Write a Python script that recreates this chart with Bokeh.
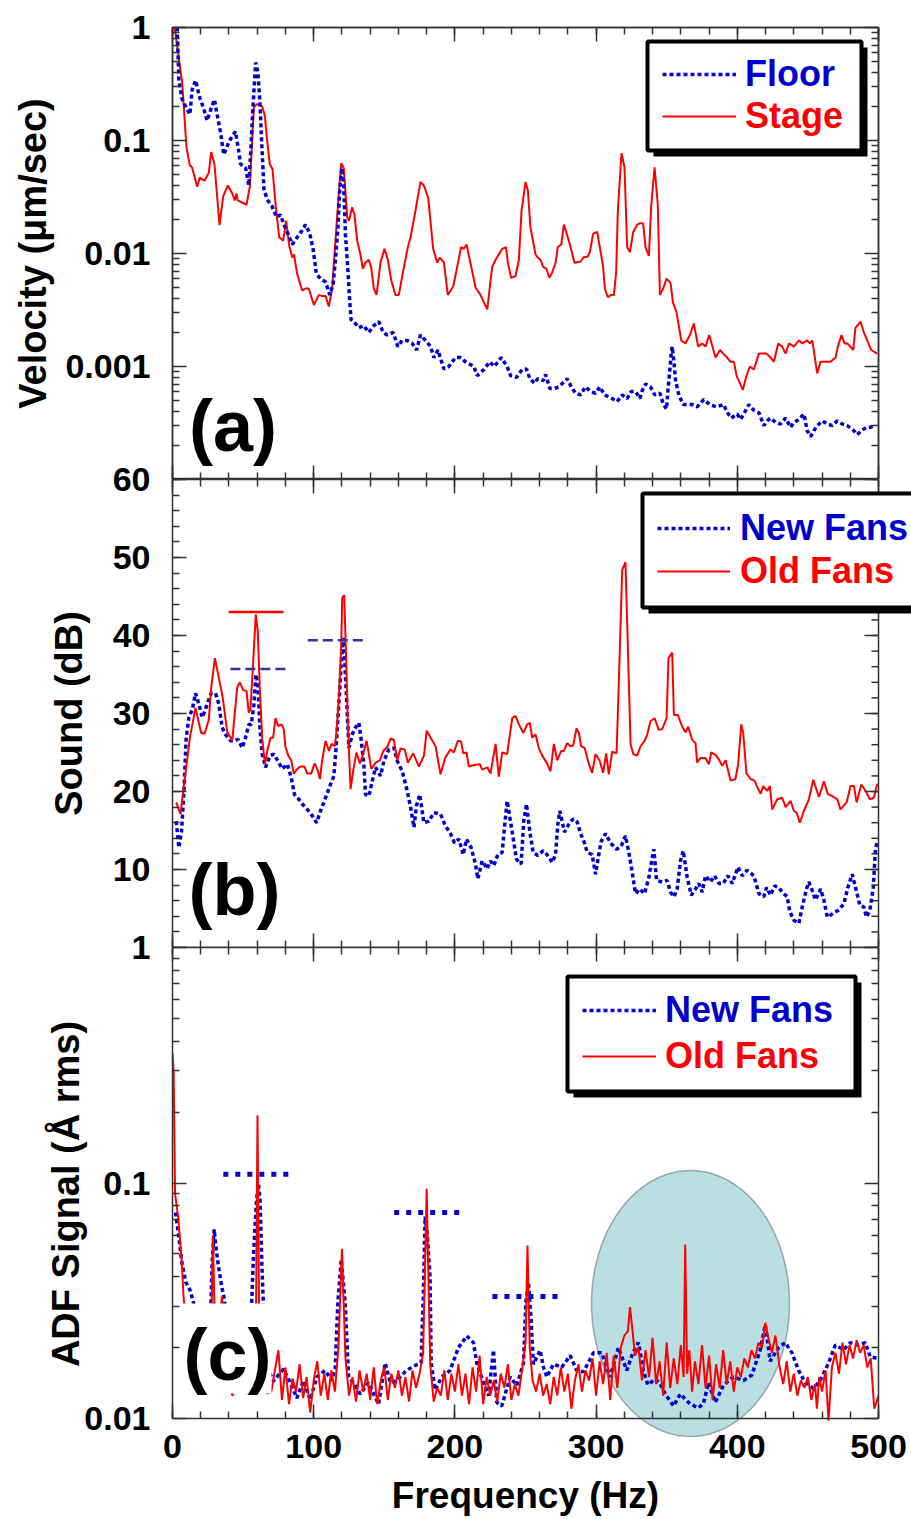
import numpy as np
from bokeh.plotting import figure
from bokeh.layouts import column
from bokeh.models import (Range1d, LinearAxis, LogAxis, FixedTicker, Legend, LegendItem,
                          BoxAnnotation, Label, PolyAnnotation)
from bokeh.embed import file_html
from bokeh.resources import INLINE

FONT = "Liberation Sans"
BLUE = "#0000cc"
RED = "#ff0000"
AXC = "#333333"

# ---------------- (a) Velocity ----------------
floor_f = [3.3, 4.5, 6.9, 9.3, 12.3, 13.9, 16.3, 19.3, 22.2, 24.5, 26.9, 29.7, 31.6, 34.0, 36.3, 39.2,
           42.3, 44.6, 46.3, 48.2, 51.8, 54.1, 55.8, 57.0, 58.9, 60.5, 61.9, 63.1, 64.8, 67.1, 70.6,
           73.7, 76.5, 78.9, 81.7, 84.8, 88.3, 91.8, 94.2, 97.2, 99.6, 101.9, 104.8, 108.4, 111.4,
           113.8, 115.4, 117.1, 118.5, 119.9, 121.3, 122.5, 124.1, 125.5, 126.5, 129.5, 131.9, 135.5,
           139.0, 142.6, 146.1, 149.2, 152.0, 156.3, 159.6, 162.7, 166.2, 169.8, 172.9, 175.6, 179.2,
           182.8, 185.1, 188.0, 192.2, 195.7, 200.4, 204.0, 207.5, 213.4, 215.8, 220.5, 224.7, 228.0,
           232.8, 237.0, 239.4, 243.6, 247.6, 250.7, 253.1, 256.4, 258.7, 262.5, 264.2, 267.2, 270.5,
           273.6, 277.2, 279.5, 282.4, 285.4, 289.0, 292.5, 296.0, 299.6, 302.7, 306.0, 311.4, 314.9,
           318.5, 322.0, 324.8, 327.9, 331.0, 332.6, 335.0, 338.5, 341.6, 345.2, 347.5, 349.9, 350.8,
           352.0, 353.2, 353.9, 355.1, 356.3, 358.6, 361.7, 364.5, 368.1, 371.6, 376.3, 380.6, 385.3,
           390.5, 392.4, 395.7, 399.9, 402.3, 405.1, 408.2, 411.7, 415.3, 418.8, 421.2, 423.5, 427.1,
           430.6, 434.2, 437.7, 440.1, 443.6, 447.2, 449.5, 451.9, 454.2, 456.6, 460.1, 463.7, 467.2,
           470.8, 474.3, 477.8, 481.4, 484.9, 487.8, 491.5, 494.4, 496.7]
floor_v = [1.0, 0.34, 0.23, 0.20, 0.17, 0.28, 0.34, 0.24, 0.19, 0.15, 0.185, 0.23, 0.17, 0.118, 0.075,
           0.092, 0.11, 0.12, 0.09, 0.062, 0.057, 0.040, 0.10, 0.20, 0.49, 0.40, 0.22, 0.10, 0.037,
           0.030, 0.026, 0.021, 0.022, 0.018, 0.015, 0.012, 0.0139, 0.016, 0.018, 0.015, 0.0109,
           0.0066, 0.006, 0.0056, 0.0043, 0.0054, 0.0088, 0.0165, 0.038, 0.057, 0.038, 0.0146, 0.0075,
           0.0038, 0.0026, 0.0024, 0.0022, 0.0023, 0.0020, 0.0023, 0.0025, 0.0020, 0.0019, 0.0020,
           0.0015, 0.0017, 0.0017, 0.0016, 0.0014, 0.0019, 0.0017, 0.0015, 0.0012, 0.0014, 0.00095,
           0.0010, 0.0012, 0.0012, 0.0011, 0.0010, 0.00083, 0.00094, 0.0011, 0.0010, 0.0012, 0.0010,
           0.00083, 0.00080, 0.00094, 0.00095, 0.00078, 0.00071, 0.00078, 0.00075, 0.00085, 0.00064,
           0.00064, 0.00066, 0.00073, 0.00078, 0.00066, 0.00058, 0.00056, 0.00066, 0.00060, 0.00058,
           0.00066, 0.00056, 0.00052, 0.00049, 0.00056, 0.00052, 0.00060, 0.00060, 0.00052, 0.00061,
           0.00070, 0.00066, 0.00056, 0.00058, 0.00047, 0.00042, 0.00060, 0.00087, 0.0013, 0.0015,
           0.0011, 0.00075, 0.00056, 0.00046, 0.00046, 0.00046, 0.00044, 0.00051, 0.00046, 0.00044,
           0.00046, 0.00040, 0.00035, 0.00038, 0.00034, 0.00039, 0.00046, 0.00041, 0.00039, 0.00030,
           0.00033, 0.00035, 0.00032, 0.00031, 0.00035, 0.00029, 0.00032, 0.00034, 0.00038, 0.00027,
           0.00024, 0.00027, 0.00030, 0.00033, 0.00031, 0.00030, 0.00033, 0.00031, 0.00030, 0.00028,
           0.00025, 0.00027, 0.00029, 0.00029, 0.00030]

stage_f = [1.5, 6.9, 9.9, 12.3, 13.8, 17.5, 19.3, 22.7, 25.7, 27.4, 29.7, 33.3, 35.9, 39.2, 42.3, 44.1,
           45.3, 46.2, 52.4, 54.7, 57.6, 60.0, 63.5, 65.4, 67.0, 68.9, 70.8, 73.2, 75.6, 78.4, 80.5,
           82.6, 84.8, 86.0, 88.3, 91.8, 94.2, 96.5, 100.1, 103.6, 106.0, 108.4, 110.7, 113.1, 115.4,
           117.8, 119.5, 121.3, 123.7, 125.0, 127.2, 128.9, 130.8, 133.1, 134.8, 136.6, 139.0, 140.7,
           142.6, 144.5, 147.3, 150.1, 152.5, 154.9, 157.9, 160.3, 163.8, 166.7, 168.6, 172.1, 175.6,
           178.0, 181.1, 184.6, 187.5, 189.4, 192.2, 195.0, 198.8, 201.6, 204.4, 206.3, 208.2, 212.2,
           214.6, 218.1, 222.9, 226.4, 228.8, 233.5, 236.1, 237.5, 239.8, 242.9, 245.3, 247.2, 250.0,
           251.7, 253.5, 257.1, 258.7, 260.6, 262.5, 264.9, 266.8, 268.9, 271.3, 272.9, 275.3, 277.2,
           279.5, 281.9, 284.7, 289.0, 291.3, 293.7, 295.6, 297.9, 300.8, 303.1, 305.0, 306.2, 308.3,
           310.7, 312.6, 314.2, 315.4, 318.0, 320.1, 322.0, 323.9, 326.3, 329.1, 331.0, 333.3, 335.0,
           337.4, 339.0, 341.4, 343.7, 345.2, 347.5, 349.9, 352.7, 354.4, 357.0, 360.3, 363.3, 366.4,
           369.2, 372.3, 375.1, 377.5, 380.1, 384.6, 387.7, 390.0, 392.8, 395.2, 397.6, 399.5, 403.9,
           406.5, 408.9, 411.7, 415.3, 417.6, 420.7, 423.5, 425.9, 429.0, 431.8, 434.2, 436.5, 440.1,
           443.6, 446.0, 449.5, 451.4, 453.1, 456.6, 459.0, 461.3, 463.7, 466.0, 469.6, 471.2, 473.8,
           476.0, 477.9, 482.1, 483.7, 487.3, 489.6, 492.0, 494.8, 499.1]
stage_v = [1.0, 0.32, 0.087, 0.060, 0.058, 0.039, 0.047, 0.044, 0.052, 0.079, 0.062, 0.0178, 0.032,
           0.040, 0.034, 0.0295, 0.034, 0.0295, 0.027, 0.0386, 0.197, 0.21, 0.20, 0.166, 0.10, 0.062,
           0.056, 0.0257, 0.0139, 0.013, 0.0195, 0.0118, 0.0092, 0.0098, 0.0066, 0.0047, 0.0049,
           0.0049, 0.0035, 0.0043, 0.0042, 0.0042, 0.0034, 0.0049, 0.013, 0.034, 0.063, 0.057, 0.021,
           0.0195, 0.0257, 0.022, 0.013, 0.0098, 0.0073, 0.0083, 0.0088, 0.0075, 0.0049, 0.0043,
           0.0083, 0.011, 0.0088, 0.0058, 0.0043, 0.0043, 0.0075, 0.0114, 0.0139, 0.024, 0.043, 0.040,
           0.031, 0.011, 0.0083, 0.0092, 0.0083, 0.0043, 0.0051, 0.0076, 0.0114, 0.011, 0.012, 0.007,
           0.005, 0.0043, 0.0032, 0.0076, 0.0088, 0.011, 0.0114, 0.0083, 0.0061, 0.0063, 0.0088, 0.024,
           0.043, 0.036, 0.017, 0.0098, 0.0092, 0.0088, 0.0076, 0.0073, 0.0061, 0.0068, 0.0083, 0.0114,
           0.012, 0.018, 0.0146, 0.0114, 0.0083, 0.0085, 0.0093, 0.0093, 0.0103, 0.015, 0.0155, 0.0105,
           0.0076, 0.0049, 0.0041, 0.0043, 0.0043, 0.0068, 0.024, 0.077, 0.058, 0.0114, 0.0103, 0.0155,
           0.018, 0.0185, 0.0185, 0.0114, 0.0095, 0.026, 0.058, 0.027, 0.0043, 0.0049, 0.006, 0.0055,
           0.0037, 0.003, 0.0017, 0.0016, 0.0019, 0.0024, 0.0015, 0.0016, 0.0015, 0.0019, 0.0012,
           0.0014, 0.0013, 0.0012, 0.0011, 0.0011, 0.00083, 0.00062, 0.00083, 0.0010, 0.00094, 0.0013,
           0.0013, 0.0013, 0.0012, 0.0011, 0.0016, 0.0015, 0.0013, 0.0016, 0.0015, 0.0017, 0.0016,
           0.0017, 0.0016, 0.0017, 0.00087, 0.0011, 0.0011, 0.0011, 0.0011, 0.0012, 0.0015, 0.0019,
           0.0016, 0.0016, 0.0014, 0.0022, 0.0025, 0.0020, 0.0017, 0.0014, 0.0013]

# ---------------- (b) Sound ----------------
new_b_f = [2.6, 4.5, 6.4, 8.1, 9.7, 11.6, 14.0, 16.3, 18.7, 21.0, 22.9, 25.3, 27.4, 30.5, 32.8, 35.2,
           37.6, 41.1, 44.2, 46.3, 49.4, 51.7, 54.1, 55.8, 57.6, 59.1, 60.5, 61.9, 63.5, 65.9, 69.0,
           71.8, 75.3, 77.7, 81.3, 84.1, 86.4, 89.5, 91.9, 95.4, 98.9, 102.0, 104.8, 108.4, 111.9,
           114.3, 116.2, 117.8, 119.5, 120.9, 122.1, 123.7, 124.9, 127.3, 129.6, 132.0, 133.7, 135.5,
           136.7, 139.1, 141.4, 143.8, 147.3, 149.7, 153.2, 156.8, 159.2, 162.7, 166.2, 168.6, 171.0,
           172.8, 175.2, 178.0, 181.6, 185.1, 189.8, 193.3, 196.9, 199.7, 202.8, 205.9, 208.2, 211.5,
           214.6, 216.2, 219.3, 222.9, 225.2, 227.6, 230.4, 233.5, 235.1, 237.0, 238.9, 240.6, 243.6,
           246.9, 248.8, 250.7, 253.1, 255.4, 258.7, 262.5, 265.3, 268.9, 271.3, 272.9, 274.3, 277.6,
           280.7, 283.8, 286.6, 289.0, 291.8, 293.7, 297.2, 299.6, 301.9, 303.6, 306.7, 310.2, 314.5,
           317.8, 320.8, 323.2, 325.6, 327.9, 331.0, 334.3, 337.4, 339.7, 340.9, 342.8, 346.8, 350.3,
           352.7, 355.1, 357.4, 359.8, 361.7, 364.5, 367.4, 370.4, 372.8, 375.1, 377.5, 381.0, 383.9,
           387.0, 390.0, 393.3, 396.4, 400.4, 403.5, 407.0, 411.7, 415.3, 418.8, 420.7, 423.5, 426.4,
           429.4, 431.8, 435.3, 437.2, 440.1, 443.6, 446.0, 449.0, 450.7, 453.1, 455.4, 459.0, 461.3,
           463.7, 467.2, 471.9, 475.5, 478.3, 481.4, 484.5, 486.8, 489.6, 491.5, 493.9, 496.3, 497.9,
           499.1]
new_b_db = [16.2, 12.8, 14.9, 20.1, 26.9, 29.5, 30.5, 32.6, 31.2, 29.5, 30.3, 31.6, 32.6, 32.6, 31.2,
            28.2, 27.3, 26.5, 26.5, 26.7, 25.6, 26.9, 28.6, 28.6, 31.0, 35.0, 33.7, 28.2, 24.8, 23.1,
            24.6, 24.8, 23.7, 22.9, 23.5, 21.8, 19.6, 19.0, 18.4, 17.7, 16.9, 16.0, 17.5, 19.2, 20.9,
            22.0, 26.5, 31.2, 36.3, 39.7, 36.3, 30.3, 25.6, 27.3, 28.2, 28.8, 26.5, 23.5, 19.6, 19.4,
            21.3, 23.1, 22.0, 23.9, 25.4, 25.6, 23.9, 22.6, 20.1, 18.0, 15.4, 18.2, 19.6, 16.0, 16.2,
            17.3, 17.1, 15.6, 14.6, 13.4, 13.9, 11.9, 13.9, 12.8, 10.7, 8.8, 11.1, 10.1, 11.1, 10.5,
            11.9, 12.2, 15.4, 18.8, 16.7, 14.8, 11.3, 10.7, 16.3, 18.4, 14.8, 12.2, 11.8, 12.4, 11.9,
            10.9, 11.9, 15.8, 17.5, 14.8, 15.8, 16.5, 16.1, 14.6, 13.4, 12.2, 11.9, 9.4, 11.9, 13.6,
            14.6, 13.4, 12.6, 13.0, 14.3, 12.2, 9.6, 6.9, 7.5, 6.9, 9.0, 11.5, 12.6, 8.6, 8.4, 8.6, 7.1,
            6.5, 7.5, 11.1, 12.4, 9.0, 6.7, 7.5, 8.2, 7.1, 9.2, 8.4, 9.2, 8.2, 8.2, 9.2, 8.2, 10.3, 9.2,
            9.9, 9.2, 6.9, 6.5, 7.7, 6.7, 7.9, 7.7, 7.1, 6.5, 4.6, 3.5, 3.1, 5.2, 7.5, 8.4, 7.3, 6.1,
            7.5, 6.1, 3.9, 4.3, 4.8, 5.6, 7.7, 9.4, 7.1, 5.4, 5.2, 3.9, 4.8, 7.7, 12.8, 13.4]

old_b_f = [2.6, 5.7, 7.6, 9.7, 12.3, 16.3, 20.3, 22.7, 25.7, 27.4, 30.0, 32.8, 35.6, 38.7, 42.3, 45.8,
           47.7, 50.0, 52.4, 54.0, 55.2, 57.1, 59.0, 60.4, 61.8, 63.5, 65.4, 67.1, 69.4, 71.3, 72.9,
           74.8, 77.2, 78.8, 80.0, 82.0, 84.1, 85.9, 88.3, 90.6, 93.5, 95.4, 98.2, 100.6, 102.5, 104.4,
           106.0, 108.4, 110.8, 112.6, 115.0, 116.2, 117.8, 119.5, 120.2, 121.6, 122.8, 124.2, 126.1,
           128.0, 130.3, 132.7, 134.4, 137.5, 140.8, 143.8, 146.9, 149.3, 152.1, 154.5, 156.8, 159.2,
           161.5, 164.4, 166.7, 170.5, 174.5, 178.1, 180.0, 182.8, 186.3, 189.8, 193.3, 196.9, 199.2,
           202.1, 204.4, 205.9, 208.2, 209.9, 213.4, 217.7, 219.3, 222.9, 225.2, 228.8, 231.1, 233.5,
           237.0, 240.6, 242.9, 245.3, 248.4, 251.2, 253.1, 254.7, 257.1, 259.4, 261.8, 264.9, 267.7,
           270.1, 272.4, 275.3, 277.2, 279.5, 281.9, 283.8, 286.1, 287.8, 289.4, 291.8, 294.9, 297.2,
           299.6, 302.6, 305.0, 307.1, 309.0, 311.4, 314.5, 316.1, 318.5, 320.8, 322.0, 324.4, 326.3,
           329.1, 331.5, 334.3, 336.2, 338.5, 341.4, 344.4, 346.8, 349.9, 351.3, 353.9, 355.1, 357.9,
           361.0, 363.3, 365.2, 368.1, 370.4, 371.6, 374.0, 377.5, 379.9, 381.5, 384.6, 387.0, 389.3,
           391.7, 395.2, 398.7, 400.6, 402.8, 404.2, 406.5, 409.4, 412.2, 414.1, 416.5, 418.3, 421.2,
           423.1, 424.7, 428.3, 431.8, 434.2, 437.7, 440.1, 442.0, 444.3, 447.1, 450.7, 453.8, 457.8,
           461.3, 464.1, 467.2, 470.8, 473.1, 477.4, 480.2, 482.6, 484.5, 487.8, 490.8, 493.9, 496.7,
           499.1]
old_b_db = [18.6, 17.1, 20.1, 23.1, 26.9, 30.7, 27.5, 27.4, 29.2, 33.3, 37.1, 34.6, 32.0, 27.7, 26.5,
            33.3, 34.0, 33.0, 32.9, 30.1, 30.5, 36.5, 42.7, 40.5, 33.3, 26.9, 23.5, 25.2, 26.9, 26.9,
            29.4, 28.4, 28.6, 28.0, 25.7, 24.6, 24.0, 22.3, 22.9, 23.2, 23.2, 22.3, 22.3, 23.6, 22.9,
            21.6, 24.0, 26.5, 25.2, 26.1, 25.8, 27.8, 32.0, 38.8, 44.8, 45.2, 38.1, 28.6, 20.3, 22.7,
            25.0, 23.6, 24.4, 26.5, 22.9, 23.7, 24.0, 25.2, 25.7, 26.8, 26.6, 24.0, 25.5, 25.4, 23.7,
            24.9, 23.2, 24.6, 27.8, 26.9, 25.8, 22.2, 24.4, 25.4, 25.0, 26.5, 26.4, 24.9, 25.0, 23.2,
            23.4, 23.5, 22.8, 23.1, 22.3, 26.1, 21.9, 25.0, 24.8, 29.4, 29.7, 28.6, 27.5, 28.6, 28.8,
            26.9, 27.3, 25.6, 24.6, 23.7, 22.6, 26.1, 24.0, 25.2, 25.2, 26.2, 25.8, 25.9, 28.1, 27.5,
            25.8, 25.6, 23.5, 22.4, 24.8, 23.9, 22.4, 24.9, 22.2, 25.1, 24.9, 34.1, 48.4, 49.4, 41.7,
            26.1, 24.8, 24.6, 25.8, 26.5, 27.3, 29.0, 29.4, 27.9, 28.0, 29.4, 37.1, 37.8, 29.8, 29.8,
            28.3, 27.6, 28.3, 26.6, 26.2, 23.7, 24.3, 24.3, 23.5, 25.0, 24.7, 24.1, 23.3, 24.0, 21.4,
            21.6, 23.5, 28.6, 27.5, 22.3, 21.6, 21.4, 20.6, 19.7, 20.7, 20.1, 20.7, 17.7, 19.0, 19.2,
            18.0, 18.8, 17.5, 17.3, 16.0, 17.5, 19.0, 21.5, 19.3, 21.3, 19.7, 19.4, 19.0, 17.7, 18.6,
            20.7, 20.7, 18.6, 20.9, 20.1, 19.0, 19.2, 21.0]

# level markers in (b)
old_mark_f = [39.7, 78.7]
old_mark_db = [43.0, 43.0]
new_mark1_f = [41.0, 81.0]
new_mark1_db = [35.7, 35.7]
new_mark2_f = [95.8, 135.0]
new_mark2_db = [39.4, 39.4]

# ---------------- (c) ADF signal ----------------
new_c_f = [2.1, 4.3, 6.6, 9.4, 12.5, 14.9, 17.5, 20.5, 24.0, 26.5, 28.0, 29.5, 31.0, 32.6, 35.0, 36.8,
           39.5, 43.0, 47.0, 51.0, 55.0, 57.4, 59.5, 60.9, 62.0, 63.3, 65.5, 68.0, 71.5, 78.6, 83.4,
           88.1, 92.8, 97.5, 102.2, 108.1, 112.9, 115.2, 117.1, 119.5, 122.3, 124.7, 128.2, 133.0,
           138.8, 145.9, 150.6, 154.2, 158.9, 164.8, 170.7, 176.1, 177.7, 178.9, 180.5, 182.4, 183.2,
           186.0, 190.7, 196.6, 202.5, 208.4, 213.1, 215.5, 220.2, 223.8, 227.3, 229.7, 233.2, 239.1,
           243.8, 248.6, 250.2, 252.1, 254.0, 255.6, 260.4, 262.7, 265.1, 269.8, 275.7, 281.6, 286.3,
           291.1, 298.1, 304.0, 309.9, 315.8, 321.7, 326.0, 330.0, 333.5, 336.6, 341.8, 345.0, 349.0,
           354.8, 359.6, 366.7, 372.6, 376.1, 379.6, 384.4, 390.3, 397.3, 404.4, 410.3, 416.2, 419.8,
           423.3, 429.2, 434.0, 438.7, 443.4, 448.1, 454.0, 458.7, 464.6, 469.4, 475.3, 480.0, 485.9,
           490.6, 494.1, 498.9]
new_c_v = [0.075, 0.060, 0.046, 0.038, 0.035, 0.031, 0.024, 0.019, 0.017, 0.022, 0.045, 0.0635, 0.052,
           0.044, 0.036, 0.032, 0.022, 0.017, 0.015, 0.016, 0.021, 0.05, 0.085, 0.0986, 0.085, 0.045,
           0.02, 0.016, 0.0144, 0.0162, 0.0142, 0.0122, 0.0145, 0.012, 0.015, 0.016, 0.0145, 0.0162,
           0.031, 0.0473, 0.031, 0.015, 0.0142, 0.0127, 0.0142, 0.0115, 0.0172, 0.0142, 0.0145, 0.0158,
           0.0167, 0.0172, 0.034, 0.072, 0.06, 0.04, 0.0172, 0.0132, 0.015, 0.016, 0.02, 0.0224, 0.021,
           0.0172, 0.0142, 0.0125, 0.0195, 0.0117, 0.0113, 0.015, 0.0138, 0.0172, 0.031, 0.0377, 0.026,
           0.017, 0.0195, 0.0165, 0.015, 0.017, 0.0165, 0.0185, 0.016, 0.0158, 0.019, 0.019, 0.015,
           0.02, 0.016, 0.019, 0.021, 0.016, 0.0139, 0.0147, 0.0142, 0.0127, 0.0113, 0.0127, 0.0115,
           0.0111, 0.0116, 0.0142, 0.0117, 0.0139, 0.015, 0.0145, 0.0153, 0.0195, 0.025, 0.0175, 0.02,
           0.021, 0.019, 0.016, 0.0142, 0.0134, 0.0145, 0.0172, 0.0205, 0.0196, 0.021, 0.0205, 0.021,
           0.0183, 0.018]

old_c_f = [0.0, 0.8, 1.8, 4.0, 6.6, 7.8, 10.0, 12.5, 15.0, 17.5, 20.0, 22.5, 25.0, 27.0, 28.6, 30.5,
           32.5, 35.0, 37.5, 40.0, 42.5, 45.0, 47.5, 50.0, 52.5, 55.0, 57.5, 59.0, 60.2, 61.5, 63.0,
           65.0, 67.5, 70.0, 72.5, 75.0, 77.5, 80.0, 82.5, 85.0, 87.5, 90.0, 92.5, 95.0, 97.5, 100.0,
           102.5, 105.0, 107.5, 110.0, 112.5, 115.0, 117.5, 120.0, 122.5, 125.0, 127.5, 130.0, 132.5,
           135.0, 137.5, 140.0, 142.5, 145.0, 147.5, 150.0, 152.5, 155.0, 157.5, 160.0, 162.5, 165.0,
           167.5, 170.0, 172.5, 175.0, 177.5, 180.0, 182.5, 185.0, 187.5, 190.0, 192.5, 195.0, 197.5,
           200.0, 202.5, 205.0, 207.5, 210.0, 212.5, 215.0, 217.5, 220.0, 222.5, 225.0, 227.5, 230.0,
           232.5, 235.0, 237.5, 240.0, 242.5, 245.0, 247.5, 250.0, 251.4, 253.0, 255.0, 257.5, 260.0,
           262.5, 265.0, 267.5, 270.0, 272.5, 275.0, 277.5, 280.0, 282.5, 285.0, 287.5, 290.0, 292.5,
           295.0, 297.5, 300.0, 302.5, 305.0, 307.5, 310.0, 312.5, 315.0, 317.5, 320.0, 322.5, 324.0,
           326.0, 327.5, 330.0, 332.5, 335.0, 337.5, 340.0, 342.5, 345.0, 347.5, 350.0, 352.5, 355.0,
           357.5, 360.0, 362.0, 363.1, 364.5, 366.0, 368.0, 370.0, 372.5, 375.0, 377.5, 380.0, 382.5,
           385.0, 387.5, 390.0, 392.5, 395.0, 397.5, 400.0, 402.5, 405.0, 407.5, 410.0, 412.5, 415.0,
           417.5, 419.8, 422.0, 424.5, 427.0, 430.0, 432.5, 435.0, 437.5, 440.0, 442.5, 445.0, 447.5,
           450.0, 452.5, 455.0, 456.4, 458.0, 460.0, 462.5, 464.6, 467.0, 469.5, 472.0, 474.5, 477.0,
           479.5, 482.0, 484.5, 487.0, 489.5, 492.0, 494.5, 497.0, 500.0]
old_c_v = [0.355, 0.30, 0.09, 0.072, 0.046, 0.033, 0.024, 0.017, 0.014, 0.0135, 0.015, 0.0132, 0.014,
           0.017, 0.060, 0.018, 0.022, 0.033, 0.018, 0.014, 0.0125, 0.014, 0.013, 0.015, 0.0128, 0.014,
           0.016, 0.021, 0.194, 0.021, 0.0135, 0.013, 0.0128, 0.013, 0.016, 0.0195, 0.0120, 0.0165,
           0.0115, 0.0148, 0.0130, 0.0170, 0.0122, 0.0150, 0.0106, 0.0145, 0.0175, 0.0125, 0.0155,
           0.0120, 0.0160, 0.0130, 0.0200, 0.0526, 0.0180, 0.0125, 0.0150, 0.0118, 0.0160, 0.0130,
           0.0155, 0.0120, 0.0165, 0.0115, 0.0145, 0.0165, 0.0120, 0.0155, 0.0135, 0.0160, 0.0125,
           0.0150, 0.0118, 0.0160, 0.0135, 0.0155, 0.0190, 0.0945, 0.0170, 0.0118, 0.0135, 0.0125,
           0.0160, 0.0120, 0.0155, 0.0130, 0.0170, 0.0125, 0.0155, 0.0115, 0.0165, 0.0130, 0.0185,
           0.0115, 0.0150, 0.0125, 0.0145, 0.0118, 0.0155, 0.0135, 0.0170, 0.0120, 0.0140, 0.0125,
           0.0160, 0.0210, 0.0543, 0.0200, 0.0145, 0.0130, 0.0155, 0.0125, 0.0140, 0.0115, 0.0150,
           0.0125, 0.0165, 0.0130, 0.0155, 0.0110, 0.0145, 0.0170, 0.0130, 0.0160, 0.0145, 0.0180,
           0.0125, 0.0175, 0.0140, 0.0190, 0.0120, 0.0185, 0.0135, 0.0200, 0.0225, 0.0235, 0.0297,
           0.0230, 0.0185, 0.0200, 0.0145, 0.0195, 0.0150, 0.0220, 0.0140, 0.0175, 0.0125, 0.0210,
           0.0135, 0.0180, 0.0140, 0.0205, 0.0150, 0.0548, 0.0155, 0.0195, 0.0130, 0.0175, 0.0140,
           0.0205, 0.0135, 0.0185, 0.0120, 0.0170, 0.0135, 0.0195, 0.0140, 0.0175, 0.0130, 0.0165,
           0.0150, 0.0180, 0.0165, 0.0195, 0.0180, 0.0210, 0.0200, 0.0255, 0.0220, 0.0190, 0.0225,
           0.0165, 0.0140, 0.0175, 0.0130, 0.0155, 0.0125, 0.0145, 0.0135, 0.0150, 0.0120, 0.0140,
           0.0110, 0.0150, 0.0130, 0.0160, 0.0098, 0.0165, 0.0190, 0.0155, 0.0210, 0.0170, 0.0205,
           0.0180, 0.0215, 0.0190, 0.0205, 0.0165, 0.0180, 0.0110, 0.0125]

# level markers in (c)
mark_c1_f = [36.0, 83.0]
mark_c1_v = [0.109, 0.109]
mark_c2_f = [157.0, 204.0]
mark_c2_v = [0.075, 0.075]
mark_c3_f = [226.6, 273.0]
mark_c3_v = [0.033, 0.033]

x_major = [0, 100, 200, 300, 400, 500]
x_minor = list(range(0, 501, 20))

PX_PER_HZ = 706 / 500
OVERLAP = 20
C_PX_DEC = 471 / 2          # pixels per decade in (c)
C_EXTRA = 22                # frame of (c) runs 22 px below 0.01 so the ellipse can pass the axis


# ---------------- helpers ----------------
def style_axis(ax, ticks, minor, show=True, overrides=None, standoff=22, size="34px"):
    ax.ticker = FixedTicker(ticks=ticks, minor_ticks=minor)
    ax.major_tick_in = 14
    ax.major_tick_out = 0
    ax.minor_tick_in = 7
    ax.minor_tick_out = 0
    ax.axis_line_color = AXC
    ax.axis_line_width = 1.5
    ax.major_tick_line_color = AXC
    ax.major_tick_line_width = 1.5
    ax.minor_tick_line_color = AXC
    ax.minor_tick_line_width = 1.5
    if show:
        ax.major_label_text_font = FONT
        ax.major_label_text_font_style = "bold"
        ax.major_label_text_font_size = size
        ax.major_label_text_color = "black"
        ax.major_label_standoff = standoff
        if overrides:
            ax.major_label_overrides = overrides
    else:
        ax.major_label_text_font_size = "0px"
        ax.major_label_text_alpha = 0
        ax.major_label_standoff = 0
        ax.axis_label = None


def make_fig(x_end, y_range, log, frame_w, frame_h, left, right, top, bottom):
    p = figure(frame_width=frame_w, frame_height=frame_h, x_range=Range1d(0, x_end), y_range=y_range,
               y_axis_type="log" if log else "linear", output_backend="svg",
               toolbar_location=None, title=None,
               min_border_left=left, min_border_right=right,
               min_border_top=top, min_border_bottom=bottom)
    p.xgrid.visible = False
    p.ygrid.visible = False
    p.outline_line_color = AXC
    p.outline_line_width = 1.5
    p.background_fill_color = "white"
    p.border_fill_color = "white"
    return p


def add_top(p, bounds=None):
    t_ax = LinearAxis()
    style_axis(t_ax, x_major, x_minor, show=False)
    if bounds:
        t_ax.bounds = bounds
    p.add_layout(t_ax, "above")


def add_right(p, log, yt, ym, bounds=None):
    r_ax = LogAxis() if log else LinearAxis()
    style_axis(r_ax, yt, ym, show=False)
    if bounds:
        r_ax.bounds = bounds
    p.add_layout(r_ax, "right")


def y_title(ax, text, standoff):
    ax.axis_label = text
    ax.axis_label_text_font = FONT
    ax.axis_label_text_font_style = "bold"
    ax.axis_label_text_font_size = "38px"
    ax.axis_label_text_color = "black"
    ax.axis_label_standoff = standoff


def add_legend(p, r, text, color, loc, gw, standoff):
    leg = Legend(items=[LegendItem(label=text, renderers=[r])], location=loc,
                 padding=0, margin=0, spacing=0, glyph_width=gw, glyph_height=44,
                 label_height=44, label_width=20, label_standoff=standoff,
                 label_text_font=FONT, label_text_font_style="bold",
                 label_text_font_size="36px", label_text_color=color,
                 label_text_baseline="middle",
                 background_fill_alpha=0, border_line_alpha=0)
    p.add_layout(leg)


# pixel -> data helpers for annotation placement (page pixels)
def ax_(px): return (px - 172) / PX_PER_HZ
def ay_(py): return 10 ** (-(py - 27) / 452 * 4)
def by_(py): return 60 - (py - 479) / 468 * 60
def cx_(px): return (px - 169) / PX_PER_HZ
def cy_(py): return 10 ** (-(py - 947) / C_PX_DEC)


def legend_box(p, fx, fy, x0, y0, x1, y1):
    p.add_layout(BoxAnnotation(left=fx(x0 + 6), right=fx(x1 + 6), top=fy(y0 + 6), bottom=fy(y1 + 6),
                               fill_color="black", fill_alpha=1, line_alpha=0))
    p.add_layout(BoxAnnotation(left=fx(x0), right=fx(x1), top=fy(y0), bottom=fy(y1),
                               fill_color="white", fill_alpha=1, line_color="black",
                               line_width=4, line_alpha=1))


# ---------------- panel (a) ----------------
ya_major = [1e-4, 1e-3, 1e-2, 1e-1, 1]
ya_minor = [m * 10.0 ** k for k in range(-4, 0) for m in range(2, 10)]
pa = make_fig(500, Range1d(1e-4, 1), True, 706, 452, 172, 33, 27, 0)
style_axis(pa.yaxis[0], ya_major, ya_minor,
           overrides={1: "1", 0.1: "0.1", 0.01: "0.01", 0.001: "0.001", 0.0001: ""})
y_title(pa.yaxis[0], "Velocity (\u03bcm/sec)", 8)
style_axis(pa.xaxis[0], x_major, x_minor, show=False)
add_right(pa, True, ya_major, ya_minor)
add_top(pa)

r_stage = pa.line(stage_f, stage_v, line_color=RED, line_width=2)
r_floor = pa.line(floor_f, floor_v, line_color=BLUE, line_width=3.5, line_dash="4 3")
legend_box(pa, ax_, ay_, 647, 41, 861, 150)
add_legend(pa, r_floor, "Floor", BLUE, (490, 383), 74, 9)
add_legend(pa, r_stage, "Stage", RED, (490, 341), 74, 9)
pa.add_layout(Label(x=ax_(232.5), y=ay_(425), text="(a)", text_align="center",
                    text_baseline="middle", text_font=FONT, text_font_style="bold",
                    text_font_size="72px", text_color="black"))

# ---------------- panel (b) ----------------
# frame runs to the right page edge so that the legend can run off the page like the original
yb_major = [0, 10, 20, 30, 40, 50, 60]
yb_minor = list(range(0, 61, 2))
pb = make_fig(739 / PX_PER_HZ, Range1d(0, 60), False, 739, 468, 172, 0, OVERLAP, 0)
pb.margin = (-OVERLAP, 0, 0, 0)
pb.border_fill_color = None
pb.outline_line_color = None
style_axis(pb.yaxis[0], yb_major, yb_minor, overrides={0: ""})
y_title(pb.yaxis[0], "Sound (dB)", 20)
style_axis(pb.xaxis[0], x_major, x_minor, show=False)
pb.xaxis[0].bounds = (0, 500)
add_top(pb, bounds=(0, 500))

r_new_b = pb.line(new_b_f, new_b_db, line_color=BLUE, line_width=3.5, line_dash="4 3")
r_old_b = pb.line(old_b_f, old_b_db, line_color=RED, line_width=2)
pb.line(old_mark_f, old_mark_db, line_color=RED, line_width=2.5)
pb.line(new_mark1_f, new_mark1_db, line_color="#333399", line_width=2.5, line_dash="10 5")
pb.line(new_mark2_f, new_mark2_db, line_color="#333399", line_width=2.5, line_dash="10 5")
# right frame edge of (b) with inward ticks
pb.segment(x0=[500], y0=[0], x1=[500], y1=[60], line_color=AXC, line_width=1.5)
pb.segment(x0=[500] * len(yb_major), y0=yb_major, x1=[500 - 14 / PX_PER_HZ] * len(yb_major),
           y1=yb_major, line_color=AXC, line_width=1.5)
pb.segment(x0=[500] * len(yb_minor), y0=yb_minor, x1=[500 - 7 / PX_PER_HZ] * len(yb_minor),
           y1=yb_minor, line_color=AXC, line_width=1.5)
legend_box(pb, ax_, by_, 642, 493, 940, 607)
add_legend(pb, r_new_b, "New Fans", BLUE, (485, 397), 73, 10)
add_legend(pb, r_old_b, "Old Fans", RED, (485, 354), 73, 10)
pb.add_layout(Label(x=ax_(234), y=by_(889), text="(b)", text_align="center",
                    text_baseline="middle", text_font=FONT, text_font_style="bold",
                    text_font_size="72px", text_color="black"))

# ---------------- panel (c) ----------------
yc_major = [0.01, 0.1, 1]
yc_minor = [m * 10.0 ** k for k in range(-2, 0) for m in range(2, 10)]
c_low = 10 ** (-2 - C_EXTRA / C_PX_DEC)
pc = make_fig(500, Range1d(c_low, 1), True, 706, 471 + C_EXTRA, 169, 36, OVERLAP, 0)
pc.margin = (-OVERLAP, 0, 0, 0)
pc.border_fill_color = None
pc.outline_line_color = None
style_axis(pc.yaxis[0], yc_major, yc_minor, overrides={0.01: "0.01", 0.1: "0.1", 1: "1"})
pc.yaxis[0].bounds = (0.01, 1)
y_title(pc.yaxis[0], "ADF Signal (\u00c5 rms)", -6)
pc.xaxis[0].visible = False
add_right(pc, True, yc_major, yc_minor, bounds=(0.01, 1))
add_top(pc)

t = np.linspace(0, 2 * np.pi, 160)
ell_x = cx_(687) + (99 / PX_PER_HZ) * np.cos(t)
ell_y = 10 ** (np.log10(cy_(1303)) + (133 / C_PX_DEC) * np.sin(t))
pc.add_layout(PolyAnnotation(xs=list(ell_x), ys=list(ell_y), fill_color="#badfe3", fill_alpha=1,
                             line_color="black", line_width=1.5, level="underlay"))

r_new_c = pc.line(new_c_f, new_c_v, line_color=BLUE, line_width=3.5, line_dash="4 3")
r_old_c = pc.line(old_c_f, old_c_v, line_color=RED, line_width=2)
for mf, mv in ((mark_c1_f, mark_c1_v), (mark_c2_f, mark_c2_v), (mark_c3_f, mark_c3_v)):
    pc.line(mf, mv, line_color=BLUE, line_width=5, line_dash="5 7")
# white patch behind the panel label
pc.quad(left=[cx_(170.5)], right=[cx_(268)], bottom=[cy_(1393)], top=[cy_(1303)],
        fill_color="white", line_color=None)
legend_box(pc, cx_, cy_, 564, 976, 852, 1091)
add_legend(pc, r_new_c, "New Fans", BLUE, (410, 386 + C_EXTRA), 74, 9)
add_legend(pc, r_old_c, "Old Fans", RED, (410, 340 + C_EXTRA), 74, 9)
pc.add_layout(Label(x=cx_(224), y=cy_(1354), text="(c)", text_align="center",
                    text_baseline="middle", text_font=FONT, text_font_style="bold",
                    text_font_size="72px", text_color="black"))

# ---------------- shared frequency axis, laid over the bottom of (c) ----------------
pd_top = 19
pd = figure(frame_width=706, frame_height=1, x_range=Range1d(0, 500), y_range=Range1d(0, 1),
            output_backend="svg", toolbar_location=None, title=None,
            min_border_left=169, min_border_right=36, min_border_top=pd_top, min_border_bottom=101)
pd.margin = (-(pd_top + C_EXTRA + 1), 0, 0, 0)
pd.xgrid.visible = False
pd.ygrid.visible = False
pd.yaxis.visible = False
pd.outline_line_color = None
pd.background_fill_color = None
pd.border_fill_color = None
style_axis(pd.xaxis[0], x_major, x_minor, standoff=16)
pd.xaxis[0].axis_label = "Frequency (Hz)"
pd.xaxis[0].axis_label_text_font = FONT
pd.xaxis[0].axis_label_text_font_style = "bold"
pd.xaxis[0].axis_label_text_font_size = "37px"
pd.xaxis[0].axis_label_text_color = "black"
pd.xaxis[0].axis_label_standoff = 14

layout = column(pa, pb, pc, pd, spacing=0)
open("out.html", "w").write(file_html(layout, INLINE))
